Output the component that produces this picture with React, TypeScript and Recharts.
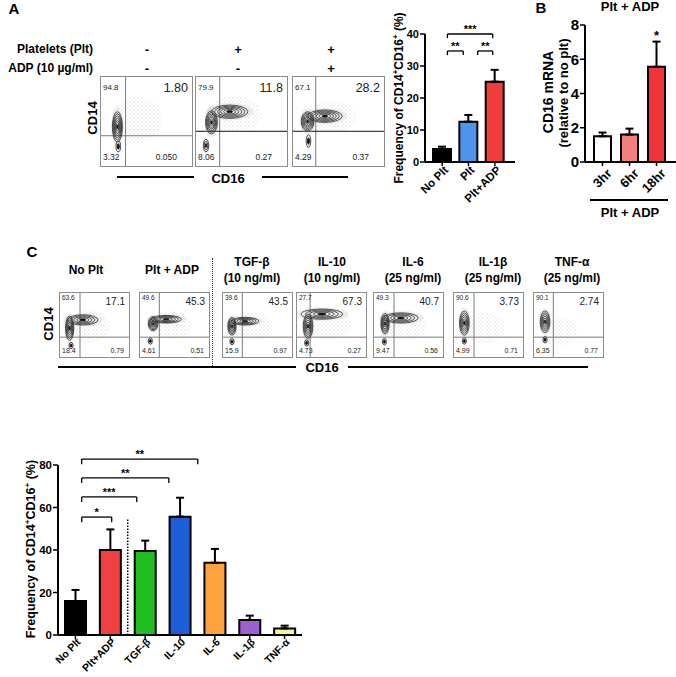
import React from "react";
import {
  Bar,
  BarChart,
  Cell,
  ErrorBar,
  ReferenceDot,
  ReferenceLine,
  Scatter,
  ScatterChart,
  XAxis,
  YAxis,
} from "recharts";

const FONT = "'Liberation Sans', Arial, Helvetica, sans-serif";

// ---------- panel A, flow plots ----------
const aPlatelets = ["-", "+", "+"];
const aAdp = ["-", "-", "+"];
const aQuadrants = [
  ["94.8", "1.80", "3.32", "0.050"],
  ["79.9", "11.8", "8.06", "0.27"],
  ["67.1", "28.2", "4.29", "0.37"],
];
const aGates = [
  [27, 34],
  [26, 39],
  [25, 39],
];
const aBlobs = [
  [
    { x: 40, y: 52, rx: 28, ry: 26, n: 0 },
    { x: 18, y: 44, rx: 5.5, ry: 17, n: 7 },
    { x: 19, y: 22, rx: 2.5, ry: 6, n: 2 },
  ],
  [
    { x: 42, y: 58, rx: 30, ry: 20, n: 0 },
    { x: 37, y: 61, rx: 20, ry: 7.5, n: 6 },
    { x: 17, y: 49, rx: 6.5, ry: 13, n: 7 },
    { x: 11, y: 23, rx: 3, ry: 7, n: 3 },
  ],
  [
    { x: 40, y: 55, rx: 30, ry: 18, n: 0 },
    { x: 35, y: 56, rx: 19, ry: 7, n: 6 },
    { x: 16, y: 50, rx: 7, ry: 11, n: 7 },
    { x: 17, y: 28, rx: 2.5, ry: 7, n: 2 },
  ],
];

// ---------- panel A, bar chart ----------
const aCategories = ["No Plt", "Plt", "Plt+ADP"];
const aValues = [4.1, 12.6, 25.1];
const aErrors = [0.7, 2.1, 3.7];
const aColors = ["#000000", "#4d94ec", "#f23c3c"];
const aBrackets = [
  { from: 0.2, to: 1.92, y: 40, text: "***" },
  { from: 0.2, to: 0.8, y: 34.7, text: "**" },
  { from: 1.35, to: 1.92, y: 34.7, text: "**" },
];

// ---------- panel B ----------
const bCategories = ["3hr", "6hr", "18hr"];
const bValues = [1.5, 1.6, 5.56];
const bErrors = [0.22, 0.35, 1.47];
const bColors = ["#ffffff", "#f47f7f", "#ee3434"];
const bStars = [{ x: 2, y: 7.03, text: "*" }];

// ---------- panel C, flow plots ----------
const cPanels = ["No Plt", "Plt + ADP", "TGF-β", "IL-10", "IL-6", "IL-1β", "TNF-α"];
const cDoses = ["", "", "(10 ng/ml)", "(10 ng/ml)", "(25 ng/ml)", "(25 ng/ml)", "(25 ng/ml)"];
const cQuadrants = [
  ["63.6", "17.1", "18.4", "0.79"],
  ["49.6", "45.3", "4.61", "0.51"],
  ["39.6", "43.5", "15.9", "0.97"],
  ["27.7", "67.3", "4.73", "0.27"],
  ["49.3", "40.7", "9.47", "0.56"],
  ["90.6", "3.73", "4.99", "0.71"],
  ["90.1", "2.74", "6.35", "0.77"],
];
const cGates = [
  [29, 31],
  [28, 31],
  [28, 31],
  [19, 31],
  [29, 31],
  [29, 31],
  [28, 31],
];
const cBlobs = [
  [
    { x: 42, y: 48, rx: 30, ry: 26, n: 0 },
    { x: 33, y: 58, rx: 22, ry: 8, n: 5 },
    { x: 14, y: 45, rx: 6, ry: 19, n: 6 },
    { x: 16, y: 18, rx: 3, ry: 5, n: 2 },
  ],
  [
    { x: 45, y: 50, rx: 30, ry: 22, n: 0 },
    { x: 38, y: 59, rx: 22, ry: 6, n: 5 },
    { x: 19, y: 52, rx: 7, ry: 11, n: 6 },
    { x: 15, y: 25, rx: 3, ry: 5, n: 2 },
  ],
  [
    { x: 42, y: 48, rx: 30, ry: 22, n: 0 },
    { x: 32, y: 56, rx: 20, ry: 6, n: 5 },
    { x: 13, y: 48, rx: 6, ry: 14, n: 6 },
    { x: 13, y: 24, rx: 3, ry: 5, n: 2 },
  ],
  [
    { x: 45, y: 52, rx: 34, ry: 26, n: 0 },
    { x: 36, y: 67, rx: 30, ry: 8, n: 5 },
    { x: 16, y: 48, rx: 7, ry: 19, n: 6 },
    { x: 14, y: 22, rx: 3, ry: 5, n: 2 },
  ],
  [
    { x: 45, y: 50, rx: 32, ry: 24, n: 0 },
    { x: 39, y: 61, rx: 25, ry: 8, n: 5 },
    { x: 16, y: 52, rx: 6, ry: 16, n: 6 },
    { x: 15, y: 24, rx: 3, ry: 5, n: 2 },
  ],
  [
    { x: 45, y: 45, rx: 28, ry: 24, n: 0 },
    { x: 15, y: 53, rx: 7, ry: 19, n: 6 },
    { x: 15, y: 25, rx: 3, ry: 5, n: 2 },
  ],
  [
    { x: 40, y: 40, rx: 22, ry: 22, n: 0 },
    { x: 16, y: 55, rx: 7, ry: 17, n: 6 },
    { x: 16, y: 27, rx: 3, ry: 5, n: 2 },
  ],
];

// ---------- panel C, bar chart ----------
const cCategories = ["No Plt", "Plt+ADP", "TGF-β", "IL-10", "IL-6", "IL-1β", "TNF-α"];
const cValues = [16, 40, 39.5, 55.7, 34, 7.1, 3.1];
const cErrors = [5.2, 9.7, 4.9, 8.9, 6.5, 2, 1.3];
const cColors = ["#000000", "#f23f3f", "#1fbf1f", "#1b5ed6", "#ffa23c", "#9f5fd3", "#f7f39a"];
const cBrackets = [
  { from: 0.18, to: 1.04, y: 55.5, text: "*" },
  { from: 0.18, to: 1.76, y: 65, text: "***" },
  { from: 0.18, to: 2.68, y: 73.9, text: "**" },
  { from: 0.18, to: 3.51, y: 82.8, text: "**" },
];

// ---------- helpers ----------
function Txt({ x, y, children, size = 12, weight = 700, anchor = "middle", rotate = 0 }: any) {
  const tx = anchor === "middle" ? "-50%" : anchor === "end" ? "-100%" : "0";
  return (
    <div
      style={{
        position: "absolute",
        left: x,
        top: y,
        transform: `translate(${tx},-50%) rotate(${rotate}deg)`,
        fontSize: size,
        fontWeight: weight,
        lineHeight: 1,
        whiteSpace: "nowrap",
      }}
    >
      {children}
    </div>
  );
}

function HLine({ x1, x2, y, w = 1.5 }: any) {
  return <div style={{ position: "absolute", left: x1, top: y, width: x2 - x1, height: w, background: "#000" }} />;
}

const Plus = () => <sup style={{ fontSize: "0.65em", lineHeight: 0 }}>+</sup>;

// speckle pattern stands in for the sparse events around each population
function Speckle() {
  return (
    <defs>
      <pattern id="speck" width="4" height="4" patternUnits="userSpaceOnUse">
        <rect x="0.5" y="0.5" width="0.8" height="0.8" fill="#8a8a8a" />
        <rect x="2.5" y="2.6" width="0.7" height="0.7" fill="#a0a0a0" />
      </pattern>
    </defs>
  );
}

function Blob(props: any) {
  const { cx, cy, payload, sx, sy } = props;
  const rx = payload.rx * sx;
  const ry = payload.ry * sy;
  if (payload.n === 0) {
    return (
      <g>
        <Speckle />
        <ellipse cx={cx} cy={cy} rx={rx} ry={ry} fill="url(#speck)" opacity={0.7} />
      </g>
    );
  }
  const rings = [];
  for (let k = 0; k < payload.n; k++) {
    const f = 1 - k / payload.n;
    rings.push(
      <ellipse key={k} cx={cx} cy={cy} rx={rx * f} ry={ry * f} fill="none" stroke="#1c1c1c" strokeWidth={0.75} />,
    );
  }
  return (
    <g>
      <ellipse cx={cx} cy={cy} rx={rx * 1.3} ry={ry * 1.3} fill="#b5b5b5" opacity={0.22} />
      {rings}
      <ellipse cx={cx} cy={cy} rx={rx / payload.n} ry={ry / payload.n} fill="#111" />
    </g>
  );
}

function FlowPlot({ left, top, w, h, gate, blobs, q, sizes, pads, gateColor = "#7a7a7a" }: any) {
  const sx = w / 100;
  const sy = h / 100;
  const num = { position: "absolute" as const, lineHeight: 1, fontWeight: 400, color: "#222" };
  return (
    <div style={{ position: "absolute", left, top, width: w, height: h, border: "1px solid #8c8c8c" }}>
      <ScatterChart width={w} height={h} margin={{ top: 0, right: 0, bottom: 0, left: 0 }}>
        <XAxis type="number" dataKey="x" domain={[0, 100]} hide />
        <YAxis type="number" dataKey="y" domain={[0, 100]} hide />
        <ReferenceLine x={gate[0]} stroke="#7a7a7a" strokeWidth={1} />
        <ReferenceLine y={gate[1]} stroke={gateColor} strokeWidth={1} />
        <Scatter
          data={blobs}
          isAnimationActive={false}
          shape={(p: any) => <Blob {...p} sx={sx} sy={sy} />}
        />
      </ScatterChart>
      <span style={{ ...num, left: 2, top: pads[0], fontSize: sizes[0] }}>{q[0]}</span>
      <span style={{ ...num, right: 4, top: pads[1], fontSize: sizes[1] }}>{q[1]}</span>
      <span style={{ ...num, left: 2, bottom: pads[2], fontSize: sizes[2] }}>{q[2]}</span>
      <span style={{ ...num, right: pads[3], bottom: pads[2], fontSize: sizes[2] }}>{q[3]}</span>
    </div>
  );
}

function RotTick({ x, y, payload, names, size, dx, dy }: any) {
  return (
    <g transform={`translate(${x + dx},${y + dy})`}>
      <text
        transform="rotate(-45)"
        textAnchor="end"
        dominantBaseline="central"
        fontSize={size}
        fontWeight={700}
        fontFamily={FONT}
        fill="#000"
      >
        {names[payload.value]}
      </text>
    </g>
  );
}

function BarPanel({
  left,
  top,
  width,
  height,
  marginTop,
  marginRight,
  yWidth,
  xHeight,
  names,
  values,
  errors,
  colors,
  yMax,
  yTicks,
  pad,
  barSize,
  yFont,
  xFont,
  tickOffset,
  brackets = [],
  tip = 1,
  starFont = 11,
  children,
}: any) {
  const data = names.map((name: string, i: number) => ({
    i,
    name,
    v: values[i],
    e: [0, errors[i]],
  }));
  const lineStyle = { stroke: "#000", strokeWidth: 1.3 };
  return (
    <div style={{ position: "absolute", left, top }}>
      <BarChart
        width={width}
        height={height}
        data={data}
        margin={{ top: marginTop, right: marginRight, bottom: 0, left: 0 }}
      >
        <XAxis
          type="number"
          dataKey="i"
          domain={[-0.5, names.length - 0.5]}
          ticks={data.map((d: any) => d.i)}
          interval={0}
          allowDataOverflow
          padding={{ left: pad[0], right: pad[1] }}
          height={xHeight}
          axisLine={{ stroke: "#000", strokeWidth: 2 }}
          tickLine={{ stroke: "#000", strokeWidth: 1.5 }}
          tickSize={4}
          tick={(p: any) => (
            <RotTick {...p} names={names} size={xFont} dx={tickOffset[0]} dy={tickOffset[1]} />
          )}
        />
        <YAxis
          type="number"
          domain={[0, yMax]}
          ticks={yTicks}
          width={yWidth}
          allowDataOverflow
          axisLine={{ stroke: "#000", strokeWidth: 2 }}
          tickLine={{ stroke: "#000", strokeWidth: 1.5 }}
          tickSize={5}
          tickMargin={1}
          tick={{ fontSize: yFont, fontWeight: 700, fill: "#000", fontFamily: FONT }}
        />
        <Bar dataKey="v" barSize={barSize} stroke="#000" strokeWidth={2} isAnimationActive={false}>
          {data.map((d: any) => (
            <Cell key={d.i} fill={colors[d.i]} />
          ))}
          <ErrorBar dataKey="e" direction="y" width={4} stroke="#000" strokeWidth={2} />
        </Bar>
        {brackets.map((b: any, k: number) => (
          <ReferenceLine
            key={`h${k}`}
            ifOverflow="visible"
            segment={[
              { x: b.from, y: b.y },
              { x: b.to, y: b.y },
            ]}
            {...lineStyle}
            label={{
              value: b.text,
              position: "top",
              offset: 1,
              fontSize: starFont,
              fontWeight: 700,
              fill: "#000",
              fontFamily: FONT,
            }}
          />
        ))}
        {brackets.map((b: any, k: number) => (
          <ReferenceLine
            key={`l${k}`}
            ifOverflow="visible"
            segment={[
              { x: b.from, y: b.y },
              { x: b.from, y: b.y - tip },
            ]}
            {...lineStyle}
          />
        ))}
        {brackets.map((b: any, k: number) => (
          <ReferenceLine
            key={`r${k}`}
            ifOverflow="visible"
            segment={[
              { x: b.to, y: b.y },
              { x: b.to, y: b.y - tip },
            ]}
            {...lineStyle}
          />
        ))}
        {children}
      </BarChart>
    </div>
  );
}

const aBoxLeft = [100, 195, 292];
const aSignX = [147, 238, 331];
const cBoxLeft = [59, 139, 222, 296, 373, 453, 533];
const cTitleX = [86, 172, 252, 332, 413, 493, 572];

export default function App() {
  return (
    <div
      style={{
        position: "relative",
        width: 676,
        height: 677,
        background: "#fff",
        fontFamily: FONT,
        color: "#000",
        overflow: "hidden",
      }}
    >
      <style>{"body{margin:0}"}</style>

      {/* panel A */}
      <Txt x={14} y={8} size={15}>A</Txt>
      <Txt x={93} y={49} anchor="end">Platelets (Plt)</Txt>
      <Txt x={93} y={68} anchor="end">ADP (10 µg/ml)</Txt>
      {aPlatelets.map((s, k) => (
        <Txt key={`p${k}`} x={aSignX[k]} y={49} size={13}>{s}</Txt>
      ))}
      {aAdp.map((s, k) => (
        <Txt key={`a${k}`} x={aSignX[k]} y={68} size={13}>{s}</Txt>
      ))}
      {aQuadrants.map((q, k) => (
        <FlowPlot
          key={`af${k}`}
          left={aBoxLeft[k]}
          top={76}
          w={91}
          h={89}
          gate={aGates[k]}
          blobs={aBlobs[k]}
          q={q}
          sizes={[8, 12.5, 8.5]}
          pads={[7, 5, 5, 15]}
          gateColor={k === 0 ? "#7a7a7a" : "#111"}
        />
      ))}
      <Txt x={92} y={118} size={13} rotate={-90}>CD14</Txt>
      <HLine x1={117} x2={194} y={176} />
      <HLine x1={262} x2={348} y={176} />
      <Txt x={228} y={178} size={13}>CD16</Txt>

      <BarPanel
        left={380}
        top={0}
        width={140}
        height={230}
        marginTop={34}
        marginRight={5}
        yWidth={45}
        xHeight={68}
        names={aCategories}
        values={aValues}
        errors={aErrors}
        colors={aColors}
        yMax={40}
        yTicks={[0, 10, 20, 30, 40]}
        pad={[4, 7]}
        barSize={18}
        yFont={11}
        xFont={11.5}
        tickOffset={[4, 0]}
        brackets={aBrackets}
        tip={1.3}
        starFont={11}
      />
      <Txt x={399} y={98} size={12} rotate={-90}>
        Frequency of CD14<Plus />CD16<Plus /> (%)
      </Txt>

      {/* panel B */}
      <Txt x={541} y={7} size={15}>B</Txt>
      <Txt x={630} y={6} size={13}>Plt + ADP</Txt>
      <BarPanel
        left={540}
        top={0}
        width={136}
        height={200}
        marginTop={25}
        marginRight={0}
        yWidth={45}
        xHeight={38}
        names={bCategories}
        values={bValues}
        errors={bErrors}
        colors={bColors}
        yMax={8}
        yTicks={[0, 2, 4, 6, 8]}
        pad={[4, 6]}
        barSize={17}
        yFont={15}
        xFont={13}
        tickOffset={[7, 3]}
      >
        {bStars.map((s, k) => (
          <ReferenceDot
            key={k}
            x={s.x}
            y={s.y}
            r={0}
            fill="none"
            stroke="none"
            ifOverflow="visible"
            label={{ value: s.text, position: "top", offset: 2, fontSize: 13, fontWeight: 700, fill: "#000" }}
          />
        ))}
      </BarPanel>
      <Txt x={548} y={92} size={14} rotate={-90}>CD16 mRNA</Txt>
      <Txt x={563} y={93} size={13} rotate={-90}>(relative to no plt)</Txt>
      <HLine x1={590} x2={668} y={199} />
      <Txt x={630} y={212} size={13}>Plt + ADP</Txt>

      {/* panel C */}
      <Txt x={32} y={251} size={15}>C</Txt>
      {cPanels.map((t, k) =>
        cDoses[k] ? (
          <React.Fragment key={`ct${k}`}>
            <Txt x={cTitleX[k]} y={262} size={12}>{t}</Txt>
            <Txt x={cTitleX[k]} y={278} size={12}>{cDoses[k]}</Txt>
          </React.Fragment>
        ) : (
          <Txt key={`ct${k}`} x={cTitleX[k]} y={270} size={12}>{t}</Txt>
        ),
      )}
      <div
        style={{
          position: "absolute",
          left: 212,
          top: 258,
          height: 108,
          borderLeft: "1.5px dotted #333",
        }}
      />
      {cQuadrants.map((q, k) => (
        <FlowPlot
          key={`cf${k}`}
          left={cBoxLeft[k]}
          top={292}
          w={69}
          h={64}
          gate={cGates[k]}
          blobs={cBlobs[k]}
          q={q}
          sizes={[6.5, 10, 7]}
          pads={[2, 3.5, 3, 5]}
        />
      ))}
      <Txt x={48} y={324} size={13} rotate={-90}>CD14</Txt>
      <HLine x1={58} x2={296} y={366} />
      <HLine x1={348} x2={588} y={366} />
      <Txt x={322} y={367} size={13}>CD16</Txt>

      <BarPanel
        left={0}
        top={440}
        width={305}
        height={237}
        marginTop={25}
        marginRight={3}
        yWidth={58}
        xHeight={42}
        names={cCategories}
        values={cValues}
        errors={cErrors}
        colors={cColors}
        yMax={80}
        yTicks={[0, 20, 40, 60, 80]}
        pad={[0, 0]}
        barSize={21}
        yFont={11.5}
        xFont={10.5}
        tickOffset={[3, -1]}
        brackets={cBrackets}
        tip={2.4}
        starFont={11}
      >
        <ReferenceLine
          ifOverflow="visible"
          segment={[
            { x: 1.5, y: 0 },
            { x: 1.5, y: 54.6 },
          ]}
          stroke="#000"
          strokeWidth={1.5}
          strokeDasharray="1.5 1.5"
        />
      </BarPanel>
      <Txt x={31} y={549} size={12.5} rotate={-90}>
        Frequency of CD14<Plus />CD16<Plus /> (%)
      </Txt>
    </div>
  );
}
